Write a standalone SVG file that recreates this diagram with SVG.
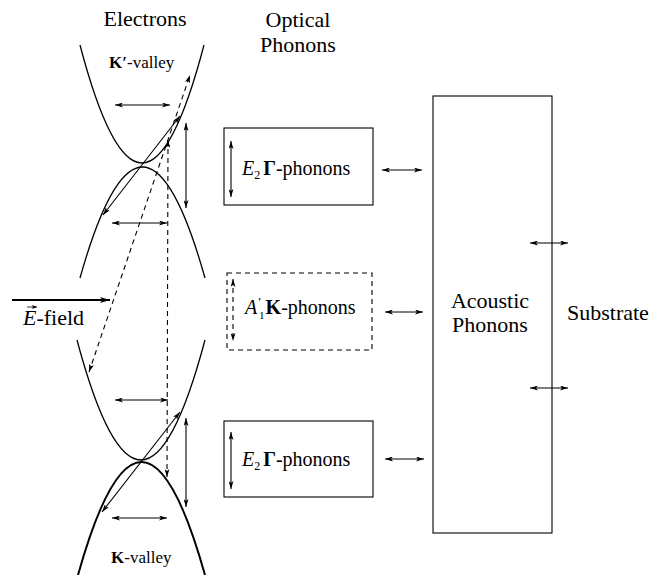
<svg xmlns="http://www.w3.org/2000/svg" width="670" height="575" viewBox="0 0 670 575">
<defs>
<style>
text, tspan{font-family:'Liberation Serif', serif !important}
.band{fill:none;stroke:#000;stroke-width:1.3}
.thick{stroke-width:2}
.ln{fill:none;stroke:#000;stroke-width:1.1;marker-start:url(#ah);marker-end:url(#ah)}
.dash{stroke-dasharray:5,4}
.box{fill:none;stroke:#000;stroke-width:1.1}
</style>
<marker id="ah" viewBox="0 0 8 5" refX="8" refY="2.5" markerWidth="8" markerHeight="5" markerUnits="userSpaceOnUse" orient="auto-start-reverse">
<path d="M0,0 L8,2.5 L0,5 L2,2.5 Z" fill="#000"/>
</marker>
<marker id="ahb" viewBox="0 0 10 6" refX="10" refY="3" markerWidth="10" markerHeight="6" markerUnits="userSpaceOnUse" orient="auto">
<path d="M0,0 L10,3 L0,6 L2.5,3 Z" fill="#000"/>
</marker>
<marker id="ahs" viewBox="0 0 5 4" refX="5" refY="2" markerWidth="5" markerHeight="4" markerUnits="userSpaceOnUse" orient="auto">
<path d="M0,0 L5,2 L0,4 L1.2,2 Z" fill="#000"/>
</marker>
</defs>

<g id="title-electrons">
<text style="font-family:'Liberation Serif',serif" font-size="22" x="145" y="26" text-anchor="middle">Electrons</text>
</g>
<g id="title-optical">
<text style="font-family:'Liberation Serif',serif" font-size="22" x="298" y="27" text-anchor="middle">Optical</text>
<text style="font-family:'Liberation Serif',serif" font-size="22" x="298" y="52" text-anchor="middle">Phonons</text>
</g>

<g id="kprime-valley">
<path class="band" d="M80,45 Q142,281 204,45"/>
<path class="band" d="M80,278 Q142.5,56 205,278"/>
<text style="font-family:'Liberation Serif',serif" font-size="17" x="109" y="68"><tspan font-weight="bold">K′</tspan>-valley</text>
</g>

<g id="k-valley">
<path class="band" d="M77,340 Q141,580 205,340"/>
<path class="band thick" d="M78,575 Q141.5,349 205,575"/>
<text style="font-family:'Liberation Serif',serif" font-size="17" x="111" y="563"><tspan font-weight="bold">K</tspan>-valley</text>
</g>

<g id="e-field">
<line x1="12" y1="300" x2="110" y2="300" stroke="#000" stroke-width="2" marker-end="url(#ahb)"/>
<text style="font-family:'Liberation Serif',serif" font-size="22" x="23" y="325"><tspan font-style="italic">E</tspan>-field</text>
<line x1="27" y1="307" x2="37" y2="307" stroke="#000" stroke-width="0.8" marker-end="url(#ahs)"/>
</g>

<g id="e2-gamma-top">
<rect class="box" x="224" y="128" width="149" height="77"/>
<line class="ln" x1="231" y1="141" x2="231" y2="197"/>
<text style="font-family:'Liberation Serif',serif" font-size="20" x="242" y="175"><tspan font-style="italic">E</tspan><tspan font-size="12" dy="4">2</tspan><tspan font-weight="bold" dx="3" dy="-4">Γ</tspan>-phonons</text>
</g>

<g id="a1-k">
<rect class="box dash" x="227" y="273" width="145" height="77"/>
<line class="ln dash" x1="233" y1="279" x2="233" y2="341"/>
<text style="font-family:'Liberation Serif',serif" font-size="20" x="245" y="314"><tspan font-style="italic">A</tspan><tspan font-size="13" dx="1" dy="-8">′</tspan><tspan font-size="11" dx="-2" dy="13">1</tspan><tspan font-weight="bold" dx="1" dy="-5">K</tspan>-phonons</text>
</g>

<g id="e2-gamma-bottom">
<rect class="box" x="224" y="421" width="149" height="76"/>
<line class="ln" x1="231" y1="432" x2="231" y2="489"/>
<text style="font-family:'Liberation Serif',serif" font-size="20" x="242" y="466"><tspan font-style="italic">E</tspan><tspan font-size="12" dy="4">2</tspan><tspan font-weight="bold" dx="3" dy="-4">Γ</tspan>-phonons</text>
</g>

<g id="acoustic">
<rect class="box" x="433" y="96" width="119" height="437"/>
<text style="font-family:'Liberation Serif',serif" font-size="22" x="490" y="308" text-anchor="middle">Acoustic</text>
<text style="font-family:'Liberation Serif',serif" font-size="22" x="490" y="332" text-anchor="middle">Phonons</text>
</g>

<g id="substrate">
<text style="font-family:'Liberation Serif',serif" font-size="22" x="567" y="320">Substrate</text>
</g>

<g id="connectors">
<line class="ln" x1="115" y1="105" x2="170" y2="105"/>
<line class="ln" x1="112" y1="223" x2="167" y2="223"/>
<line class="ln" x1="186" y1="123" x2="186" y2="208"/>
<line class="ln" x1="103" y1="215" x2="180" y2="116"/>
<line class="ln" x1="115" y1="400" x2="168" y2="400"/>
<line class="ln" x1="112" y1="518" x2="167" y2="518"/>
<line class="ln" x1="186" y1="418" x2="186" y2="507"/>
<line class="ln" x1="102" y1="512" x2="180" y2="412"/>
<line class="ln dash" x1="89" y1="372" x2="190" y2="75"/>
<line class="ln dash" x1="168" y1="140" x2="167" y2="477"/>
<line class="ln" x1="382" y1="170" x2="422" y2="170"/>
<line class="ln" x1="385" y1="312" x2="423" y2="312"/>
<line class="ln" x1="385" y1="459" x2="424" y2="459"/>
<line class="ln" x1="530" y1="243" x2="568" y2="243"/>
<line class="ln" x1="530" y1="388" x2="568" y2="388"/>
</g>
</svg>
